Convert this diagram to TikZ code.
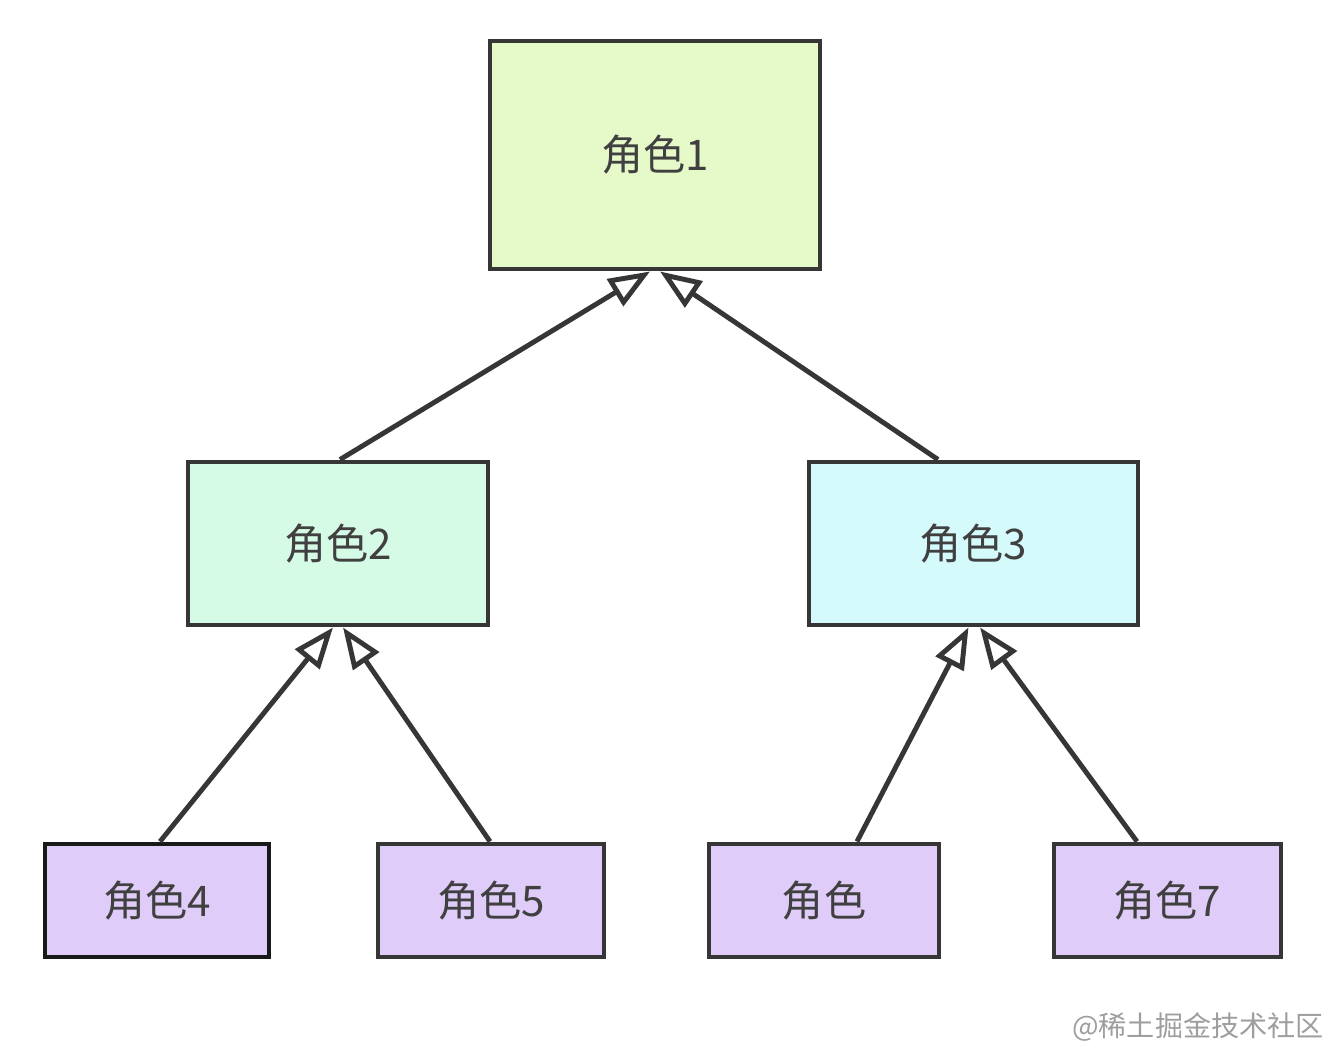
\documentclass[tikz,border=0pt]{standalone}
\usepackage{fontspec}
\newfontfamily\cjk{Noto Sans CJK SC}
\usetikzlibrary{arrows.meta}
\definecolor{rolegreen}{HTML}{E6FAC9}
\definecolor{rolemint}{HTML}{D5FAE6}
\definecolor{rolecyan}{HTML}{D5FAFC}
\definecolor{rolepurple}{HTML}{DFCCF8}
\definecolor{roleline}{HTML}{363636}

\begin{document}
\begin{tikzpicture}[>={Triangle[open,length=0.82cm,width=0.62cm,fill=white]},
  role/.style={draw=roleline,line width=2.8pt,inner sep=0pt,text=black!75,font=\cjk\fontsize{24}{27}\selectfont},
  inherit/.style={->,draw=roleline,line width=2.8pt}]
  \useasboundingbox (0,0) rectangle (26.76,-21.08);
  \node[role,fill=rolegreen,minimum width=6.6cm,minimum height=4.56cm] (r1) at (13.10,-3.10) {角色1};
  \node[role,fill=rolemint,minimum width=6.0cm,minimum height=3.26cm] (r2) at (6.76,-10.87) {角色2};
  \node[role,fill=rolecyan,minimum width=6.58cm,minimum height=3.26cm] (r3) at (19.47,-10.87) {角色3};
  \node[role,fill=rolepurple,draw=black!90,minimum width=4.48cm,minimum height=2.26cm] (r4) at (3.14,-18.01) {角色4};
  \node[role,fill=rolepurple,minimum width=4.52cm,minimum height=2.26cm] (r5) at (9.82,-18.01) {角色5};
  \node[role,fill=rolepurple,minimum width=4.6cm,minimum height=2.26cm] (r6) at (16.48,-18.01) {角色};
  \node[role,fill=rolepurple,minimum width=4.54cm,minimum height=2.26cm] (r7) at (23.35,-18.01) {角色7};
  \draw[inherit] ([xshift=0.04cm]r2.north) -- ([xshift=-0.1cm]r1.south);
  \draw[inherit] ([xshift=-0.71cm]r3.north) -- ([xshift=0.1cm]r1.south);
  \draw[inherit] ([xshift=0.06cm]r4.north) -- ([xshift=-0.1cm]r2.south);
  \draw[inherit] ([xshift=-0.02cm]r5.north) -- ([xshift=0.1cm]r2.south);
  \draw[inherit] ([xshift=0.66cm]r6.north) -- ([xshift=-0.1cm]r3.south);
  \draw[inherit] ([xshift=-0.61cm]r7.north) -- ([xshift=0.13cm]r3.south);
  \node[text=black!38,font=\cjk\fontsize{16}{19}\selectfont] (mark) at (23.96,-20.54) {@稀土掘金技术社区};
\end{tikzpicture}
\end{document}
